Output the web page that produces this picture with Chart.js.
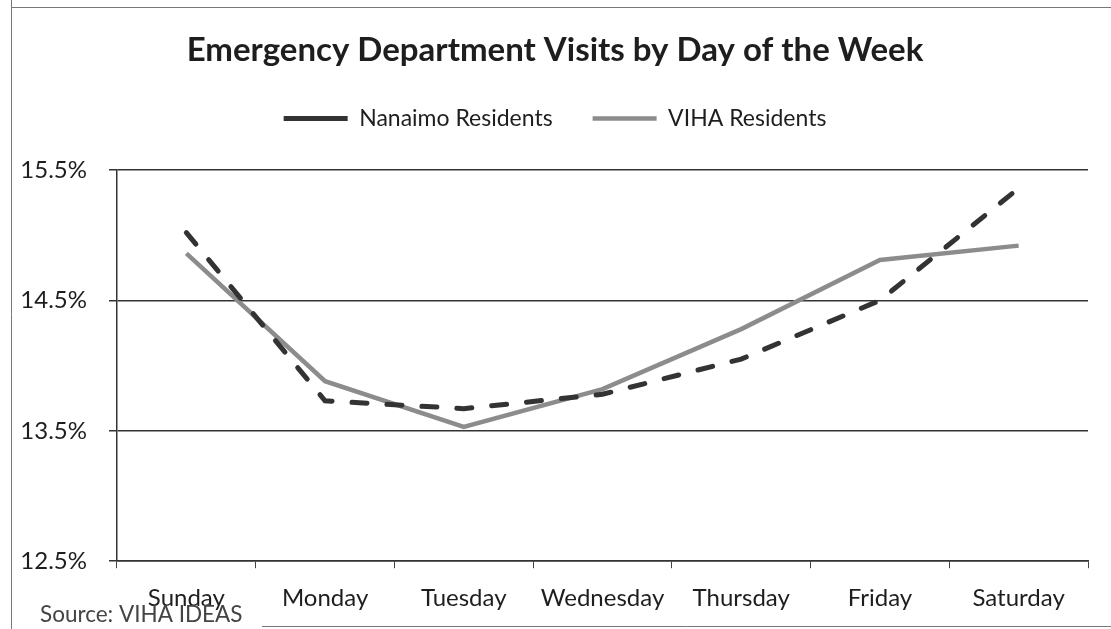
<!DOCTYPE html>
<html>
<head>
<meta charset="utf-8">
<script src="https://cdn.jsdelivr.net/npm/chart.js@4"></script>
<style>
body{margin:0;background:#fff}
#wrap{width:1111px;height:629px;position:relative}
</style>
</head>
<body>
<div id="wrap"><canvas id="edChart" width="1111" height="629"></canvas></div>
<script>
// values (% of weekly ED visits)
let days = ['Sunday','Monday','Tuesday','Wednesday','Thursday','Friday','Saturday']
let nanaimo = [15.02, 13.73, 13.67, 13.78, 14.05, 14.50, 15.36]
let viha = [14.86, 13.88, 13.53, 13.82, 14.28, 14.81, 14.92]
let yTicks = [12.5, 13.5, 14.5, 15.5]

let ink = '#1e1e1e'

// push the plot down below the legend
let legendGap = {
    id: 'legendGap',
    beforeInit(chart) {
        let fit = chart.legend.fit
        chart.legend.fit = function() {
            fit.bind(chart.legend)()
            this.height += 30
        }
    }
}

// page frame and source note
let frameAndSource = {
    id: 'frameAndSource',
    afterDraw(chart) {
        let c = chart.ctx
        c.save()
        c.strokeStyle = '#777'
        c.lineWidth = 1
        c.beginPath()
        c.moveTo(11.5, 0)
        c.lineTo(11.5, 629)
        c.moveTo(11, 7.5)
        c.lineTo(1111, 7.5)
        c.moveTo(262, 626.5)
        c.lineTo(1111, 626.5)
        c.stroke()
        c.fillStyle = '#444'
        c.font = '22.5px Lato'
        c.textBaseline = 'middle'
        c.fillText('Source: VIHA IDEAS', 40, 615)
        c.restore()
    }
}

let ctx = document.getElementById('edChart').getContext('2d')
let myChart = new Chart(ctx, {
    type: 'line',
    data: {
        labels: days,
        datasets: [{
            label: 'Nanaimo Residents',
            data: nanaimo,
            borderColor: '#333',
            borderWidth: 5,
            borderDash: [15, 20],
            borderCapStyle: 'round',
            pointRadius: 0,
            tension: 0,
            fill: false
        }, {
            label: 'VIHA Residents',
            data: viha,
            borderColor: '#8c8c8c',
            borderWidth: 4.5,
            pointRadius: 0,
            tension: 0,
            fill: false
        }]
    },
    options: {
        responsive: false,
        maintainAspectRatio: false,
        animation: false,
        layout: { padding: { top: 34, left: 22, right: 23, bottom: 0 } },
        plugins: {
            title: {
                display: true,
                text: 'Emergency Department Visits by Day of the Week',
                color: ink,
                font: { family: 'Lato', size: 33, weight: 'bold', lineHeight: 1 },
                padding: { top: 0, bottom: 0 }
            },
            legend: {
                display: true,
                labels: {
                    usePointStyle: true,
                    pointStyle: 'line',
                    pointStyleWidth: 64,
                    padding: 40,
                    color: ink,
                    font: { family: 'Lato', size: 23 }
                }
            },
            tooltip: { enabled: false }
        },
        scales: {
            x: {
                offset: true,
                grid: {
                    offset: true,
                    drawOnChartArea: false,
                    tickLength: 7,
                    color: '#444'
                },
                border: { display: true, color: '#333', width: 1.5 },
                ticks: {
                    color: ink,
                    padding: 16,
                    maxRotation: 0,
                    font: { family: 'Lato', size: 24 }
                }
            },
            y: {
                min: 12.5,
                max: 15.5,
                afterFit(scale) { scale.width = 95 },
                afterBuildTicks(scale) { scale.ticks = yTicks.map(v => ({ value: v })) },
                grid: {
                    color: '#333',
                    lineWidth: 1.5,
                    tickLength: 8
                },
                border: { display: true, color: '#333', width: 1.5 },
                ticks: {
                    color: ink,
                    padding: 22,
                    font: { family: 'Lato', size: 24 },
                    callback: v => v.toFixed(1) + '%'
                }
            }
        }
    },
    plugins: [legendGap, frameAndSource]
})
</script>
</body>
</html>
